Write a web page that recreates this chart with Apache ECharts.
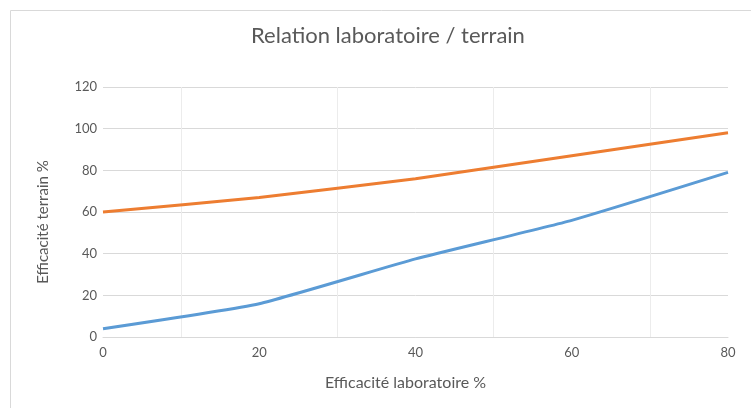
<!DOCTYPE html>
<html><head><meta charset="utf-8">
<script src="https://cdn.jsdelivr.net/npm/echarts@6/dist/echarts.min.js"></script>
<style>html,body{margin:0;padding:0;background:#fff}#c{width:751px;height:408px}</style>
</head><body><div id="c"></div>
<script>
const xCategories = ['0','10','20','30','40','50','60','70','80'];
const labX = ['0','20','40','60','80'];
const seriesOrange = [60, 67, 76, 87, 98];
const seriesBlue = [4, 16, 37.5, 56, 79];
const yTicks = [0, 20, 40, 60, 80, 100, 120];

const chart = echarts.init(document.getElementById('c'));
const font = 'Lato, "Open Sans", sans-serif';
chart.setOption({
  animation: false,
  graphic: [{type:'rect', left: 8, top: 8, shape:{width: 760, height: 420}, style:{fill:'none', stroke:'#d9d9d9', lineWidth:1}, z:-1}],
  title: {text: 'Relation laboratoire / terrain', left: 246, top: 20,
    textStyle: {fontFamily: font, fontSize: 22, fontWeight: 'normal', color: '#595959'}},
  grid: {left: 103, right: 23, top: 87, bottom: 71},
  xAxis: {type: 'category', data: xCategories, boundaryGap: false,
    name: 'Efficacité laboratoire %', nameLocation: 'middle', nameGap: 38,
    nameTextStyle: {fontFamily: font, fontSize: 16, color: '#595959', padding: [0, 20, 0, 0]},
    axisLine: {lineStyle: {color: '#d9d9d9'}}, axisTick: {show: false},
    axisLabel: {interval: 1, fontFamily: font, fontSize: 13, color: '#595959', margin: 9},
    splitLine: {show: true, interval: function(i){ return i % 2 === 1; }, lineStyle: {color: '#ececec'}}},
  yAxis: {type: 'value', min: yTicks[0], max: yTicks[yTicks.length-1], interval: 20,
    name: 'Efficacité terrain %', nameLocation: 'middle', nameGap: 52,
    nameTextStyle: {fontFamily: font, fontSize: 15, color: '#595959', padding: [0, 20, 0, 0]},
    axisLine: {show: false}, axisTick: {show: false},
    axisLabel: {fontFamily: font, fontSize: 13, color: '#595959', margin: 6},
    splitLine: {lineStyle: {color: '#d9d9d9'}}},
  series: [
    {type: 'line', data: labX.map((x,i)=>[x, seriesOrange[i]]), smooth: 0.15, showSymbol: false,
     lineStyle: {color: '#ED7D31', width: 3}, itemStyle:{color:'#ED7D31'}},
    {type: 'line', data: labX.map((x,i)=>[x, seriesBlue[i]]), smooth: 0.15, showSymbol: false,
     lineStyle: {color: '#5B9BD5', width: 3}, itemStyle:{color:'#5B9BD5'}}
  ]
});
</script></body></html>
